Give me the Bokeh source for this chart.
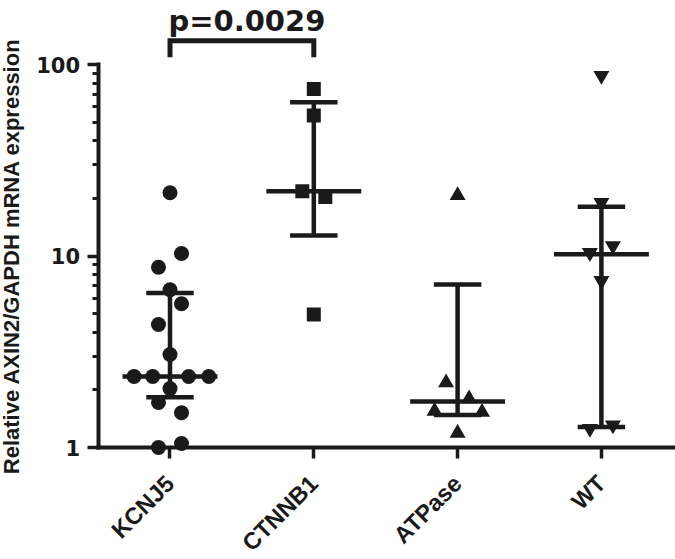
from math import pi
from bokeh.plotting import figure
from bokeh.models import FixedTicker, Range1d, ColumnDataSource, PrintfTickFormatter
from bokeh.core.properties import value
from bokeh.embed import file_html
from bokeh.resources import INLINE

# ---------------- data ----------------
categories = ["KCNJ5", "CTNNB1", "ATPase", "WT"]

kcnj5_values = [21.4, 10.3, 8.74, 6.66, 5.63, 4.39, 3.06, 2.35, 2.35, 2.35, 2.35,
                2.03, 1.72, 1.52, 1.0, 1.05]
kcnj5_jitter = [0, 0.08, -0.08, 0, 0.08, -0.08, 0, -0.25, -0.12, 0.13, 0.27,
                0, -0.08, 0.08, -0.08, 0.08]

ctnnb1_values = [74.6, 54.2, 21.8, 20.3, 4.95]
ctnnb1_jitter = [0, 0, -0.08, 0.08, 0]

atpase_values = [20.7, 2.18, 1.80, 1.55, 1.53, 1.19]
atpase_jitter = [0, -0.08, 0.08, -0.16, 0.17, 0]

wt_values = [87.5, 19.0, 10.4, 11.3, 7.43, 1.256, 1.31]
wt_jitter = [0, 0, -0.08, 0.08, 0, -0.08, 0.08]

medians = [2.35, 21.8, 1.74, 10.2]
lower_q = [1.83, 12.8, 1.48, 1.28]
upper_q = [6.4, 63.5, 7.1, 18.1]

p_value_text = "p=0.0029"
bracket_groups = [0, 1]          # KCNJ5 vs CTNNB1
bracket_low, bracket_high = 109, 133
p_text_y = 169

y_major_ticks = [1, 10, 100]
y_minor_ticks = [2, 3, 4, 5, 6, 7, 8, 9, 20, 30, 40, 50, 60, 70, 80, 90]

# ---------------- figure ----------------
INK = "#1a1a1a"
# the frame covers the whole canvas; the axes are pinned inside it
p = figure(width=675, height=559, y_axis_type="log",
           x_range=Range1d(-1.1787, 3.5153), y_range=Range1d(0.2601, 215.9),
           output_backend="svg", toolbar_location=None,
           min_border_left=0, min_border_right=0, min_border_top=0,
           min_border_bottom=0)
p.outline_line_color = None
p.grid.visible = False

# ---------------- points ----------------
def pts(vals, jit, idx):
    return ColumnDataSource(dict(x=[idx + j for j in jit], y=vals))

p.scatter("x", "y", source=pts(kcnj5_values, kcnj5_jitter, 0), marker="circle",
          size=15, fill_color=INK, line_color=None)
p.scatter("x", "y", source=pts(ctnnb1_values, ctnnb1_jitter, 1), marker="square",
          size=14, fill_color=INK, line_color=None)
p.scatter("x", "y", source=pts(atpase_values, atpase_jitter, 2), marker="triangle",
          size=16, fill_color=INK, line_color=None)
p.scatter("x", "y", source=pts(wt_values, wt_jitter, 3), marker="inverted_triangle",
          size=16, fill_color=INK, line_color=None)

# ---------------- median + interquartile bars ----------------
idx = list(range(len(categories)))
MED_HALF, CAP_HALF, BAR_W = 0.33, 0.165, 4.5
p.segment(x0=idx, y0=lower_q, x1=idx, y1=upper_q, line_color=INK, line_width=BAR_W)
p.segment(x0=[i - MED_HALF for i in idx], y0=medians,
          x1=[i + MED_HALF for i in idx], y1=medians, line_color=INK, line_width=BAR_W)
p.segment(x0=[i - CAP_HALF for i in idx], y0=upper_q,
          x1=[i + CAP_HALF for i in idx], y1=upper_q, line_color=INK, line_width=BAR_W)
p.segment(x0=[i - CAP_HALF for i in idx], y0=lower_q,
          x1=[i + CAP_HALF for i in idx], y1=lower_q, line_color=INK, line_width=BAR_W)

# ---------------- significance bracket ----------------
g0, g1 = bracket_groups
p.line(x=[g0, g0, g1, g1], y=[bracket_low, bracket_high, bracket_high, bracket_low],
       line_color=INK, line_width=5, line_join="miter")
p.text(x=[(g0 + g1) / 2], y=[p_text_y], text=[p_value_text], x_offset=5,
       text_font=value("DejaVu Sans"), text_font_style="bold",
       text_font_size="29px", text_color=INK,
       text_align="center", text_baseline="alphabetic")

# ---------------- axes ----------------
xa = p.xaxis[0]
ya = p.yaxis[0]
xa.fixed_location = 1
ya.fixed_location = -0.5
xa.bounds = (-0.5, 3.52)
ya.bounds = (1, 100)

xa.ticker = FixedTicker(ticks=idx)
xa.major_label_overrides = {i: c for i, c in enumerate(categories)}
xa.major_label_orientation = pi / 4
ya.ticker = FixedTicker(ticks=y_major_ticks, minor_ticks=y_minor_ticks)
ya.formatter = PrintfTickFormatter(format="%d")

for ax in (xa, ya):
    ax.axis_line_width = 4
    ax.axis_line_color = INK
    ax.axis_line_cap = "square"
    ax.major_tick_line_width = 3.5
    ax.major_tick_line_color = INK
    ax.major_tick_out = 11
    ax.major_tick_in = 0
    ax.minor_tick_line_width = 3
    ax.minor_tick_line_color = INK
    ax.minor_tick_out = 6
    ax.minor_tick_in = 0
    ax.major_label_text_font_style = "bold"
    ax.major_label_text_color = INK

xa.major_label_text_font = "Liberation Sans"
xa.major_label_text_font_size = "23.5px"
xa.major_label_standoff = 21
ya.major_label_text_font = "DejaVu Sans"
ya.major_label_text_font_size = "21px"
ya.major_label_standoff = 7

ya.axis_label = "Relative AXIN2/GAPDH mRNA expression"
ya.axis_label_text_font = "Liberation Sans"
ya.axis_label_text_font_style = "bold"
ya.axis_label_text_font_size = "22px"
ya.axis_label_text_color = INK
ya.axis_label_standoff = 10

open("out.html", "w").write(file_html(p, INLINE))
